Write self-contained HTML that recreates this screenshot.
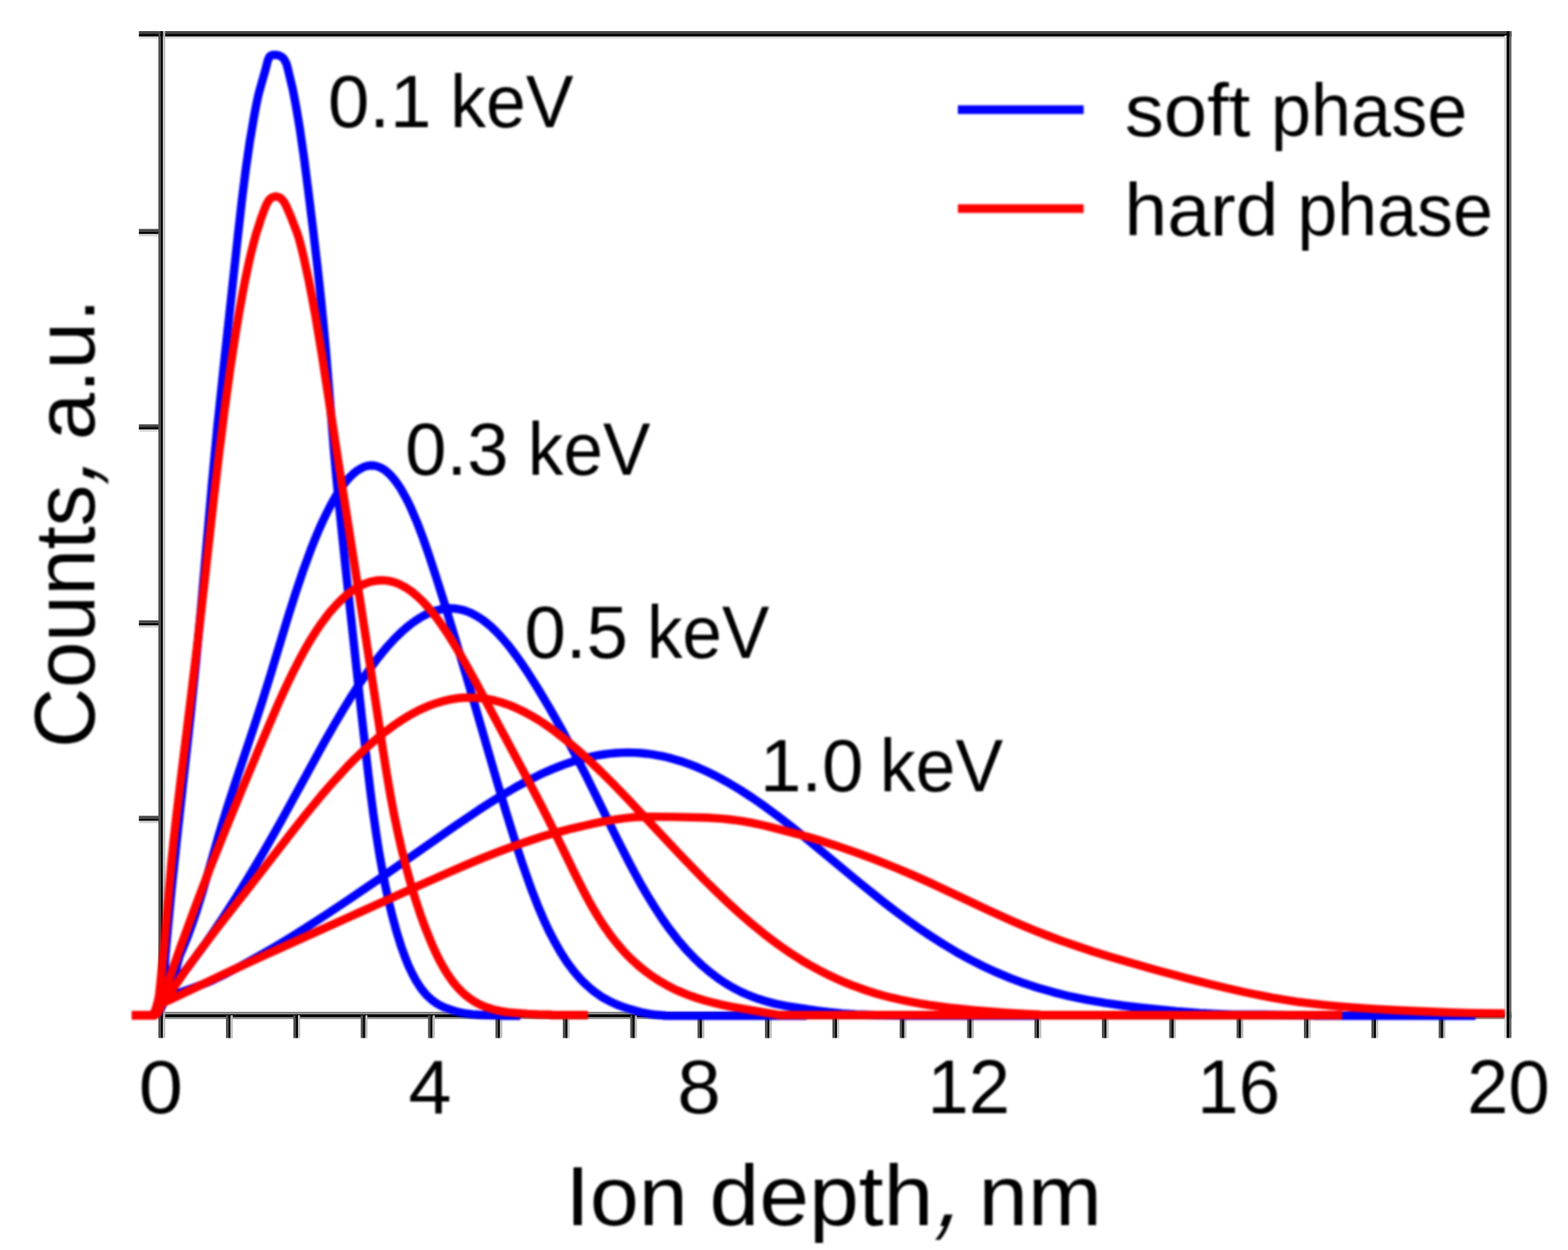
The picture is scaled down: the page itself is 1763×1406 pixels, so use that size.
<!DOCTYPE html>
<html lang="en"><head><meta charset="utf-8"><title>Ion depth distribution</title>
<style>html,body{margin:0;padding:0;background:#fff;overflow:hidden}svg{display:block}text{font-family:"Liberation Sans",sans-serif;fill:#000}</style></head><body>
<svg xmlns="http://www.w3.org/2000/svg" width="1763" height="1406" viewBox="0 0 1763 1406">
<rect width="1763" height="1406" fill="#fff"/>
<defs><filter id="soft" x="0" y="0" width="1763" height="1406" filterUnits="userSpaceOnUse" color-interpolation-filters="sRGB"><feGaussianBlur stdDeviation="0.8"/></filter></defs>
<g stroke="none">
<path fill="#8a8a8a" d="M178.1,1138.1H1699.3v2.8H178.1z"/>
<path fill="#080808" d="M178.1,1140.9H1699.3v3.1H178.1z"/>
<path fill="#8a8a8a" d="M178.1,1144.0H1699.3v2.3H178.1z"/>
<path fill="#505050" d="M254.1,1141.9h2.6V1167.6h-2.6z"/>
<path fill="#060606" d="M256.6,1141.9h2.7V1167.6h-2.7z"/>
<path fill="#bcbcbc" d="M259.3,1141.9h2.4V1167.6h-2.4z"/>
<path fill="#505050" d="M329.8,1141.9h2.6V1167.6h-2.6z"/>
<path fill="#060606" d="M332.3,1141.9h2.7V1167.6h-2.7z"/>
<path fill="#bcbcbc" d="M335.0,1141.9h2.4V1167.6h-2.4z"/>
<path fill="#505050" d="M405.6,1141.9h2.6V1167.6h-2.6z"/>
<path fill="#060606" d="M408.1,1141.9h2.7V1167.6h-2.7z"/>
<path fill="#bcbcbc" d="M410.8,1141.9h2.4V1167.6h-2.4z"/>
<path fill="#505050" d="M481.3,1141.9h2.6V1167.6h-2.6z"/>
<path fill="#060606" d="M483.8,1141.9h2.7V1167.6h-2.7z"/>
<path fill="#bcbcbc" d="M486.5,1141.9h2.4V1167.6h-2.4z"/>
<path fill="#505050" d="M557.1,1141.9h2.6V1167.6h-2.6z"/>
<path fill="#060606" d="M559.6,1141.9h2.7V1167.6h-2.7z"/>
<path fill="#bcbcbc" d="M562.3,1141.9h2.4V1167.6h-2.4z"/>
<path fill="#505050" d="M632.8,1141.9h2.6V1167.6h-2.6z"/>
<path fill="#060606" d="M635.3,1141.9h2.7V1167.6h-2.7z"/>
<path fill="#bcbcbc" d="M638.0,1141.9h2.4V1167.6h-2.4z"/>
<path fill="#505050" d="M708.6,1141.9h2.6V1167.6h-2.6z"/>
<path fill="#060606" d="M711.1,1141.9h2.7V1167.6h-2.7z"/>
<path fill="#bcbcbc" d="M713.8,1141.9h2.4V1167.6h-2.4z"/>
<path fill="#505050" d="M784.3,1141.9h2.6V1167.6h-2.6z"/>
<path fill="#060606" d="M786.8,1141.9h2.7V1167.6h-2.7z"/>
<path fill="#bcbcbc" d="M789.5,1141.9h2.4V1167.6h-2.4z"/>
<path fill="#505050" d="M860.1,1141.9h2.6V1167.6h-2.6z"/>
<path fill="#060606" d="M862.6,1141.9h2.7V1167.6h-2.7z"/>
<path fill="#bcbcbc" d="M865.3,1141.9h2.4V1167.6h-2.4z"/>
<path fill="#505050" d="M935.9,1141.9h2.6V1167.6h-2.6z"/>
<path fill="#060606" d="M938.4,1141.9h2.7V1167.6h-2.7z"/>
<path fill="#bcbcbc" d="M941.1,1141.9h2.4V1167.6h-2.4z"/>
<path fill="#505050" d="M1011.6,1141.9h2.6V1167.6h-2.6z"/>
<path fill="#060606" d="M1014.1,1141.9h2.7V1167.6h-2.7z"/>
<path fill="#bcbcbc" d="M1016.8,1141.9h2.4V1167.6h-2.4z"/>
<path fill="#505050" d="M1087.4,1141.9h2.6V1167.6h-2.6z"/>
<path fill="#060606" d="M1089.9,1141.9h2.7V1167.6h-2.7z"/>
<path fill="#bcbcbc" d="M1092.6,1141.9h2.4V1167.6h-2.4z"/>
<path fill="#505050" d="M1163.1,1141.9h2.6V1167.6h-2.6z"/>
<path fill="#060606" d="M1165.6,1141.9h2.7V1167.6h-2.7z"/>
<path fill="#bcbcbc" d="M1168.3,1141.9h2.4V1167.6h-2.4z"/>
<path fill="#505050" d="M1238.9,1141.9h2.6V1167.6h-2.6z"/>
<path fill="#060606" d="M1241.4,1141.9h2.7V1167.6h-2.7z"/>
<path fill="#bcbcbc" d="M1244.1,1141.9h2.4V1167.6h-2.4z"/>
<path fill="#505050" d="M1314.6,1141.9h2.6V1167.6h-2.6z"/>
<path fill="#060606" d="M1317.1,1141.9h2.7V1167.6h-2.7z"/>
<path fill="#bcbcbc" d="M1319.8,1141.9h2.4V1167.6h-2.4z"/>
<path fill="#505050" d="M1390.4,1141.9h2.6V1167.6h-2.6z"/>
<path fill="#060606" d="M1392.9,1141.9h2.7V1167.6h-2.7z"/>
<path fill="#bcbcbc" d="M1395.6,1141.9h2.4V1167.6h-2.4z"/>
<path fill="#505050" d="M1466.1,1141.9h2.6V1167.6h-2.6z"/>
<path fill="#060606" d="M1468.6,1141.9h2.7V1167.6h-2.7z"/>
<path fill="#bcbcbc" d="M1471.3,1141.9h2.4V1167.6h-2.4z"/>
<path fill="#505050" d="M1541.9,1141.9h2.6V1167.6h-2.6z"/>
<path fill="#060606" d="M1544.4,1141.9h2.7V1167.6h-2.7z"/>
<path fill="#bcbcbc" d="M1547.1,1141.9h2.4V1167.6h-2.4z"/>
<path fill="#505050" d="M1617.6,1141.9h2.6V1167.6h-2.6z"/>
<path fill="#060606" d="M1620.1,1141.9h2.7V1167.6h-2.7z"/>
<path fill="#bcbcbc" d="M1622.8,1141.9h2.4V1167.6h-2.4z"/>
<path fill="#474747" d="M156.2,257.5H179.0v2.8H156.2z"/>
<path fill="#080808" d="M156.2,260.3H179.0v3.1H156.2z"/>
<path fill="#d2d2d2" d="M156.2,263.4H179.0v2.3H156.2z"/>
<path fill="#474747" d="M156.2,477.3H179.0v2.8H156.2z"/>
<path fill="#080808" d="M156.2,480.1H179.0v3.1H156.2z"/>
<path fill="#d2d2d2" d="M156.2,483.2H179.0v2.3H156.2z"/>
<path fill="#474747" d="M156.2,697.7H179.0v2.8H156.2z"/>
<path fill="#080808" d="M156.2,700.5H179.0v3.1H156.2z"/>
<path fill="#d2d2d2" d="M156.2,703.6H179.0v2.3H156.2z"/>
<path fill="#474747" d="M156.2,917.6H179.0v2.8H156.2z"/>
<path fill="#080808" d="M156.2,920.4H179.0v3.1H156.2z"/>
<path fill="#d2d2d2" d="M156.2,923.5H179.0v2.3H156.2z"/>
<path fill="#474747" d="M156.2,35.1H1699.4v2.8H156.2z"/>
<path fill="#080808" d="M156.2,37.9H1699.4v3.1H156.2z"/>
<path fill="#d2d2d2" d="M156.2,41.0H1699.4v2.3H156.2z"/>
<path fill="#505050" d="M178.1,35.1h2.6V1167.6h-2.6z"/>
<path fill="#060606" d="M180.6,35.1h2.7V1167.6h-2.7z"/>
<path fill="#bcbcbc" d="M183.3,35.1h2.4V1167.6h-2.4z"/>
<path fill="#d0d0d0" d="M1691.5,40.1h2.5V1167.6h-2.5z"/>
<path fill="#080808" d="M1694.0,35.1h3.2V1167.6h-3.2z"/>
<path fill="#5c5c5c" d="M1697.2,35.1h2.2V1167.6h-2.2z"/>
</g>
<g filter="url(#soft)">
<g fill="none" stroke-width="9.4" stroke-linejoin="round" stroke-linecap="butt">
<path stroke="#0000ff" d="M148.5,1142.0 L173.5,1141.9 L175.2,1141.1 L176.0,1140.5 L177.6,1138.5 L180.1,1134.2 L181.7,1130.3 L183.8,1110.7 L184.9,1098.7 L185.2,1092.6 L185.6,1080.3 L185.9,1075.5 L189.1,1040.3 L192.5,1004.5 L199.4,939.2 L214.2,805.5 L220.6,742.7 L226.2,682.2 L238.3,544.6 L244.3,481.2 L250.9,418.4 L267.5,265.0 L272.0,224.7 L276.5,189.3 L280.9,159.0 L285.6,131.4 L287.8,119.5 L290.3,107.6 L292.3,100.0 L298.1,79.9 L300.8,69.1 L301.9,66.0 L303.0,63.9 L304.2,62.7 L306.1,62.0 L308.8,61.7 L311.5,61.9 L313.9,62.5 L315.8,63.4 L317.6,64.6 L319.2,66.4 L320.6,68.7 L321.9,71.3 L322.9,74.4 L329.2,100.7 L332.6,118.1 L337.0,144.1 L341.7,176.5 L346.3,212.1 L352.2,260.0 L357.1,301.4 L361.1,338.4 L363.8,365.8 L366.2,391.7 L375.8,510.1 L378.3,537.8 L381.2,567.6 L388.7,639.8 L406.7,805.4 L413.3,863.7 L416.6,891.4 L419.8,915.9 L423.0,937.9 L426.2,958.4 L429.6,977.4 L433.2,996.0 L437.0,1013.5 L441.1,1030.3 L446.1,1048.7 L451.2,1065.0 L456.5,1079.4 L459.2,1086.0 L462.0,1092.0 L464.8,1097.6 L467.6,1102.7 L470.5,1107.4 L473.5,1111.8 L476.5,1115.7 L479.7,1119.3 L483.0,1122.5 L486.4,1125.4 L489.6,1127.7 L493.0,1129.9 L496.6,1131.7 L500.3,1133.4 L506.7,1135.7 L511.6,1137.2 L516.6,1138.5 L521.8,1139.6 L531.2,1140.9 L539.2,1141.5 L565.5,1142.2 L565.6,1142.6 L585.0,1142.6"/>
<path stroke="#0000ff" d="M148.5,1142.0 L172.7,1142.0 L174.3,1141.7 L176.0,1140.8 L176.8,1140.1 L179.2,1137.0 L182.5,1131.1 L184.8,1126.2 L190.3,1112.8 L195.4,1098.8 L197.5,1091.9 L200.6,1079.8 L202.1,1074.8 L207.0,1063.4 L211.8,1051.2 L216.4,1038.4 L221.2,1024.2 L228.6,1000.1 L246.0,939.3 L255.3,908.9 L264.1,881.7 L285.4,817.9 L294.8,789.0 L304.1,759.2 L323.6,694.7 L332.4,666.8 L341.2,640.8 L349.6,617.8 L354.2,606.2 L358.7,595.5 L363.1,585.7 L367.6,576.5 L371.9,568.1 L376.3,560.3 L380.6,553.2 L384.9,547.0 L389.2,541.4 L393.3,536.7 L397.5,532.7 L401.5,529.4 L405.6,526.9 L409.6,525.0 L413.7,523.9 L417.7,523.5 L421.0,523.8 L424.3,524.5 L427.5,525.8 L430.7,527.5 L433.9,529.7 L437.1,532.5 L440.3,535.8 L443.5,539.6 L446.7,543.8 L449.9,548.6 L453.0,553.9 L456.2,559.7 L459.4,565.9 L462.6,572.8 L469.3,588.5 L475.7,605.4 L482.5,625.0 L490.4,649.1 L500.0,679.5 L511.6,717.7 L524.6,761.1 L557.9,875.8 L568.8,912.7 L580.7,951.2 L586.0,967.5 L591.1,982.3 L597.8,1001.1 L604.3,1017.8 L610.8,1033.2 L617.2,1047.0 L623.8,1059.7 L630.5,1071.4 L637.4,1082.1 L644.4,1091.5 L648.4,1096.4 L652.4,1100.9 L656.6,1105.3 L661.0,1109.3 L665.5,1113.2 L670.0,1116.7 L674.6,1119.9 L679.4,1122.9 L683.9,1125.4 L688.7,1127.8 L693.7,1130.0 L698.7,1131.9 L703.9,1133.7 L715.2,1137.1 L720.8,1138.6 L726.2,1139.7 L736.0,1141.3 L747.0,1142.2 L747.1,1142.6 L907.0,1142.6"/>
<path stroke="#0000ff" d="M148.5,1142.0 L172.7,1142.0 L173.5,1141.8 L174.3,1141.1 L175.2,1139.9 L176.0,1138.3 L177.6,1133.7 L178.4,1130.7 L180.1,1123.4 L181.7,1114.1 L183.5,1113.6 L186.1,1112.2 L188.9,1110.4 L192.0,1108.0 L195.3,1105.2 L198.8,1101.9 L205.6,1094.8 L209.6,1090.1 L213.4,1085.2 L228.2,1065.1 L238.4,1050.5 L251.6,1030.9 L265.6,1009.1 L280.0,985.8 L294.2,962.0 L304.9,943.4 L316.5,922.7 L364.1,835.8 L375.4,816.0 L385.5,798.8 L396.0,781.7 L405.9,766.5 L415.6,752.7 L424.9,740.2 L430.5,733.3 L435.9,726.9 L441.2,721.1 L446.5,715.6 L451.8,710.5 L456.9,706.0 L462.1,701.8 L467.1,698.2 L472.1,695.0 L477.1,692.2 L482.0,689.8 L487.0,687.8 L492.0,686.3 L496.7,685.2 L501.7,684.5 L506.4,684.3 L511.0,684.5 L515.5,685.1 L520.1,686.1 L524.6,687.5 L529.1,689.3 L533.6,691.6 L538.1,694.2 L542.8,697.3 L547.2,700.8 L551.9,704.7 L556.4,709.0 L561.1,713.8 L565.7,719.0 L570.6,724.7 L575.6,731.1 L580.7,738.0 L586.3,745.9 L592.3,754.8 L604.8,774.5 L618.3,797.1 L632.6,822.4 L645.4,846.3 L658.3,871.2 L668.9,892.6 L694.2,944.2 L707.5,970.3 L714.7,983.9 L721.6,996.4 L728.3,1007.9 L735.0,1018.8 L743.9,1032.5 L752.9,1045.2 L761.8,1056.7 L770.9,1067.4 L780.1,1077.1 L789.4,1086.0 L799.0,1094.1 L808.8,1101.4 L814.7,1105.3 L820.7,1109.0 L826.8,1112.4 L833.1,1115.6 L839.6,1118.5 L846.1,1121.2 L852.7,1123.6 L859.7,1125.8 L871.9,1129.1 L884.8,1131.7 L919.4,1136.8 L932.6,1138.5 L947.1,1139.9 L962.5,1140.9 L984.4,1141.7 L1012.9,1142.2 L1013.1,1142.6 L1167.0,1142.6"/>
<path stroke="#0000ff" d="M148.5,1142.0 L172.7,1142.0 L173.5,1141.8 L174.3,1141.3 L175.2,1140.5 L176.0,1139.3 L177.6,1135.8 L179.2,1131.0 L180.1,1128.1 L181.7,1121.3 L185.9,1120.7 L191.3,1119.6 L197.5,1117.9 L204.4,1115.8 L211.7,1113.2 L220.6,1109.9 L231.3,1105.8 L238.5,1102.8 L254.2,1095.2 L271.6,1086.1 L289.7,1076.1 L308.6,1065.2 L327.3,1053.9 L346.7,1041.7 L367.7,1028.1 L390.2,1013.2 L431.8,984.8 L510.5,929.9 L537.9,911.3 L552.4,902.0 L565.8,893.7 L578.6,886.2 L590.9,879.5 L606.6,871.6 L614.2,868.1 L621.6,864.9 L629.0,862.0 L636.4,859.2 L643.5,856.8 L650.7,854.7 L657.9,852.7 L664.8,851.1 L671.9,849.7 L678.9,848.5 L685.8,847.6 L692.7,847.0 L699.6,846.6 L706.2,846.5 L713.1,846.6 L720.0,847.0 L726.9,847.7 L733.8,848.6 L740.7,849.8 L747.6,851.2 L754.4,852.9 L761.3,854.9 L768.2,857.1 L775.3,859.6 L782.5,862.4 L789.6,865.5 L796.8,868.8 L804.2,872.4 L811.5,876.3 L818.9,880.5 L832.3,888.5 L846.1,897.5 L860.7,907.7 L876.0,919.0 L890.1,929.9 L905.6,942.4 L965.4,992.0 L991.4,1013.0 L1005.6,1024.0 L1019.1,1034.0 L1032.2,1043.3 L1045.0,1052.0 L1060.2,1061.8 L1075.2,1070.8 L1090.3,1079.1 L1105.3,1086.7 L1120.3,1093.7 L1135.6,1100.1 L1150.9,1105.8 L1166.7,1111.0 L1184.5,1116.1 L1203.0,1120.7 L1222.2,1124.7 L1242.6,1128.2 L1262.3,1131.0 L1283.2,1133.5 L1322.6,1137.4 L1348.7,1139.4 L1367.2,1140.4 L1385.9,1141.1 L1402.6,1141.3 L1419.4,1141.3 L1477.3,1142.2 L1477.5,1142.6 L1659.0,1142.6"/>
<path stroke="#ff0000" d="M148.5,1142.0 L170.0,1142.0 L170.8,1141.8 L171.6,1141.2 L172.5,1140.3 L173.3,1139.0 L174.1,1137.3 L175.7,1132.8 L177.4,1126.7 L179.0,1119.2 L184.4,1065.7 L192.8,969.5 L195.1,946.6 L197.9,921.7 L202.3,884.5 L214.5,785.9 L222.3,721.1 L228.7,665.5 L240.7,557.7 L246.0,512.5 L252.6,460.0 L259.1,412.9 L265.7,370.2 L269.1,350.3 L272.4,332.0 L275.7,314.9 L279.0,299.0 L282.2,284.8 L285.5,272.0 L287.6,264.3 L293.5,245.8 L296.7,237.0 L299.6,229.8 L301.9,225.9 L303.0,224.4 L304.3,223.2 L305.6,222.3 L307.0,221.6 L308.5,221.1 L310.0,221.0 L312.3,221.3 L314.5,222.3 L316.5,223.7 L318.4,225.9 L320.1,228.4 L321.8,231.7 L324.5,237.8 L327.1,243.9 L333.6,260.7 L336.0,267.8 L338.7,278.0 L341.4,289.1 L347.0,314.7 L350.6,333.3 L354.3,353.1 L358.0,375.1 L362.1,400.1 L381.6,527.1 L409.7,706.4 L430.6,843.9 L434.9,870.8 L439.0,894.6 L443.1,916.4 L447.3,936.5 L451.6,955.4 L456.4,974.4 L461.6,993.4 L467.1,1011.6 L472.7,1028.6 L478.5,1044.6 L485.2,1061.1 L488.6,1068.7 L492.0,1075.8 L495.4,1082.5 L498.9,1088.7 L502.3,1094.3 L505.8,1099.6 L509.3,1104.4 L512.9,1108.8 L516.6,1112.9 L520.4,1116.7 L524.3,1120.1 L528.4,1123.2 L532.7,1126.1 L537.1,1128.6 L540.9,1130.5 L544.9,1132.2 L548.8,1133.6 L553.3,1135.0 L557.9,1136.2 L562.3,1137.2 L566.8,1138.0 L571.5,1138.6 L593.1,1140.4 L604.9,1141.0 L619.2,1141.3 L619.3,1141.7 L661.0,1141.7"/>
<path stroke="#ff0000" d="M148.5,1142.0 L172.7,1142.0 L173.5,1141.9 L174.4,1141.4 L176.0,1139.7 L177.6,1136.9 L179.3,1133.0 L181.7,1125.0 L184.2,1118.5 L202.0,1067.9 L219.5,1020.0 L236.8,974.8 L256.1,926.7 L271.3,889.8 L290.1,844.7 L303.3,813.6 L312.8,791.7 L321.4,772.7 L329.4,756.1 L337.1,741.2 L344.5,727.6 L349.9,718.5 L355.4,709.9 L360.6,702.2 L365.9,695.0 L371.2,688.2 L376.6,682.1 L381.9,676.5 L387.3,671.4 L392.7,666.9 L397.9,663.2 L403.3,659.9 L408.4,657.3 L413.6,655.3 L418.8,653.8 L423.9,653.0 L429.1,652.7 L433.1,652.9 L437.1,653.4 L441.0,654.3 L445.0,655.5 L449.0,657.1 L452.9,659.1 L456.9,661.4 L461.0,664.1 L464.9,667.1 L469.1,670.6 L473.0,674.3 L477.1,678.4 L481.2,683.0 L485.3,687.9 L489.6,693.3 L494.0,699.2 L502.8,712.1 L512.2,727.1 L522.3,744.5 L534.2,766.0 L592.5,875.3 L608.6,906.0 L623.0,934.6 L646.4,982.9 L656.9,1003.6 L661.7,1012.7 L666.6,1021.4 L671.4,1029.5 L676.3,1037.2 L681.0,1044.3 L685.6,1050.8 L690.2,1056.9 L695.0,1062.8 L699.8,1068.4 L704.6,1073.6 L709.5,1078.5 L714.8,1083.4 L720.2,1088.1 L725.7,1092.5 L731.5,1096.8 L737.3,1100.7 L743.3,1104.4 L749.5,1108.0 L755.9,1111.4 L762.3,1114.4 L771.7,1118.4 L781.7,1122.0 L792.1,1125.2 L803.3,1128.2 L812.4,1130.3 L822.4,1132.3 L874.3,1141.3 L874.5,1141.7 L1509.0,1141.7"/>
<path stroke="#ff0000" d="M148.5,1142.0 L173.1,1142.0 L173.9,1141.9 L174.7,1141.5 L176.4,1140.1 L178.0,1137.6 L179.6,1134.2 L182.1,1127.3 L186.1,1123.2 L190.0,1118.7 L207.4,1093.3 L224.6,1069.7 L245.1,1042.7 L281.8,995.8 L329.0,934.8 L341.0,919.6 L352.0,906.1 L362.2,893.8 L372.0,882.5 L381.7,871.8 L390.8,861.9 L399.8,852.8 L408.6,844.3 L416.7,836.9 L424.6,830.0 L432.4,823.7 L440.1,817.9 L447.8,812.5 L455.3,807.6 L462.8,803.2 L470.1,799.3 L477.4,795.9 L484.8,792.9 L492.1,790.4 L499.4,788.3 L506.7,786.7 L513.8,785.5 L521.1,784.8 L528.2,784.6 L533.9,784.8 L539.7,785.2 L545.4,785.9 L551.2,786.9 L556.9,788.2 L562.9,789.8 L568.6,791.7 L574.5,793.9 L580.5,796.4 L586.4,799.2 L592.4,802.3 L598.5,805.7 L604.7,809.4 L610.9,813.4 L617.3,817.8 L623.7,822.5 L635.6,831.8 L648.3,842.5 L661.6,854.6 L675.7,868.0 L689.5,881.8 L705.2,898.0 L765.1,961.9 L778.7,976.0 L790.8,988.5 L805.2,1002.7 L818.6,1015.5 L831.5,1027.3 L844.3,1038.4 L859.4,1050.7 L874.3,1062.0 L889.2,1072.4 L903.9,1081.7 L911.4,1086.0 L918.9,1090.2 L926.4,1094.1 L933.9,1097.8 L941.4,1101.3 L949.1,1104.7 L956.9,1107.8 L964.6,1110.7 L973.9,1114.0 L983.2,1116.9 L992.8,1119.7 L1002.5,1122.2 L1012.5,1124.5 L1023.0,1126.7 L1033.6,1128.7 L1044.7,1130.5 L1055.8,1132.0 L1067.3,1133.5 L1096.1,1136.4 L1127.7,1138.9 L1168.2,1141.3 L1168.5,1141.7 L1509.0,1141.7"/>
<path stroke="#ff0000" d="M148.5,1142.0 L173.0,1142.0 L173.8,1141.9 L174.6,1141.6 L175.4,1141.0 L177.1,1139.2 L178.7,1136.6 L180.4,1133.1 L182.0,1128.6 L192.9,1123.7 L255.2,1094.1 L295.3,1075.6 L342.4,1054.1 L473.6,995.0 L501.2,982.7 L523.4,973.1 L543.7,964.7 L562.2,957.4 L574.5,952.8 L586.5,948.6 L598.1,944.7 L609.4,941.1 L620.7,937.8 L632.6,934.6 L643.4,931.8 L655.8,929.0 L670.6,925.7 L679.7,923.9 L689.7,922.1 L700.0,920.6 L708.3,919.6 L715.3,919.0 L723.7,918.7 L734.1,918.6 L758.5,918.9 L795.5,919.8 L812.5,920.9 L820.4,921.7 L828.1,922.6 L836.2,923.8 L844.4,925.3 L859.2,928.5 L896.6,938.1 L917.6,944.1 L939.3,950.9 L961.7,958.6 L984.0,966.9 L1006.8,976.0 L1025.4,983.9 L1044.5,992.4 L1111.7,1024.0 L1138.7,1036.2 L1153.0,1042.4 L1166.4,1047.9 L1179.5,1053.0 L1193.2,1058.1 L1211.0,1064.3 L1229.6,1070.5 L1249.2,1076.5 L1270.8,1082.8 L1299.6,1090.9 L1336.0,1100.7 L1360.7,1107.0 L1383.0,1112.3 L1399.2,1116.0 L1415.0,1119.2 L1430.0,1122.1 L1444.8,1124.6 L1458.9,1126.8 L1473.5,1128.7 L1488.6,1130.4 L1504.3,1131.9 L1523.7,1133.5 L1545.4,1134.9 L1569.6,1136.2 L1597.8,1137.5 L1628.5,1138.7 L1650.9,1139.4 L1670.3,1139.8 L1692.0,1139.9"/>
</g>
<g fill="none" stroke-width="9.6" stroke-linecap="butt">
<path stroke="#0000ff" d="M1077.0,123.4 H1218.4"/>
<path stroke="#ff0000" d="M1077.0,234.6 H1218.4"/>
</g>
<g stroke="#000" stroke-width="0" stroke-linejoin="round">
<text transform="translate(368.65,143.20) scale(0.9963,1.0000)" font-size="84.0px">0.1</text>
<text transform="translate(506.37,143.20) scale(0.9574,1.0000)" font-size="84.0px">keV</text>
<text transform="translate(455.56,534.20) scale(0.9943,1.0000)" font-size="84.0px">0.3</text>
<text transform="translate(593.61,534.20) scale(0.9502,1.0000)" font-size="84.0px">keV</text>
<text transform="translate(589.86,740.00) scale(0.9951,1.0000)" font-size="84.0px">0.5</text>
<text transform="translate(727.41,740.00) scale(0.9502,1.0000)" font-size="84.0px">keV</text>
<text transform="translate(854.52,889.80) scale(0.9963,1.0000)" font-size="84.0px">1.0</text>
<text transform="translate(989.27,889.80) scale(0.9574,1.0000)" font-size="84.0px">keV</text>
<text transform="translate(1264.78,153.00) scale(1.0416,1.0000)" font-size="84.0px">soft</text>
<text transform="translate(1429.04,153.00) scale(0.9642,1.0000)" font-size="84.0px">phase</text>
<text transform="translate(1264.35,264.60) scale(1.0296,1.0000)" font-size="84.0px">hard</text>
<text transform="translate(1458.65,264.60) scale(0.9610,1.0000)" font-size="84.0px">phase</text>
<text transform="translate(155.93,1251.60) scale(1.0564,1.0000)" font-size="84.5px">0</text>
<text transform="translate(459.22,1251.60) scale(1.0296,1.0000)" font-size="84.5px">4</text>
<text transform="translate(761.54,1251.60) scale(1.0424,1.0000)" font-size="84.5px">8</text>
<text transform="translate(1042.73,1251.60) scale(0.9888,1.0000)" font-size="84.5px">12</text>
<text transform="translate(1346.11,1251.60) scale(0.9919,1.0000)" font-size="84.5px">16</text>
<text transform="translate(1649.52,1251.60) scale(0.9883,1.0000)" font-size="84.5px">20</text>
<text transform="translate(635.79,1378.00) scale(1.0369,1.0000)" font-size="95.5px">Ion</text>
<text transform="translate(797.78,1378.00) scale(1.0532,1.0000)" font-size="95.5px">depth</text>
<text transform="translate(1100.21,1378.00) scale(1.0455,1.0000)" font-size="95.5px">nm</text>
<text transform="translate(105.60,841.27) rotate(-90) scale(0.9784,1.0000)" font-size="95.5px">Counts</text>
<text transform="translate(105.60,494.99) rotate(-90) scale(0.9992,1.0000)" font-size="95.5px">a.u.</text>
<text transform="translate(1048.5,1378.7) skewX(-20) scale(1,1.25)" font-size="95.5px">,</text>
<text transform="translate(105.8,547.5) rotate(-90) skewX(-20) scale(1,1.25)" font-size="95.5px">,</text>
</g>
</g>
</svg></body></html>
